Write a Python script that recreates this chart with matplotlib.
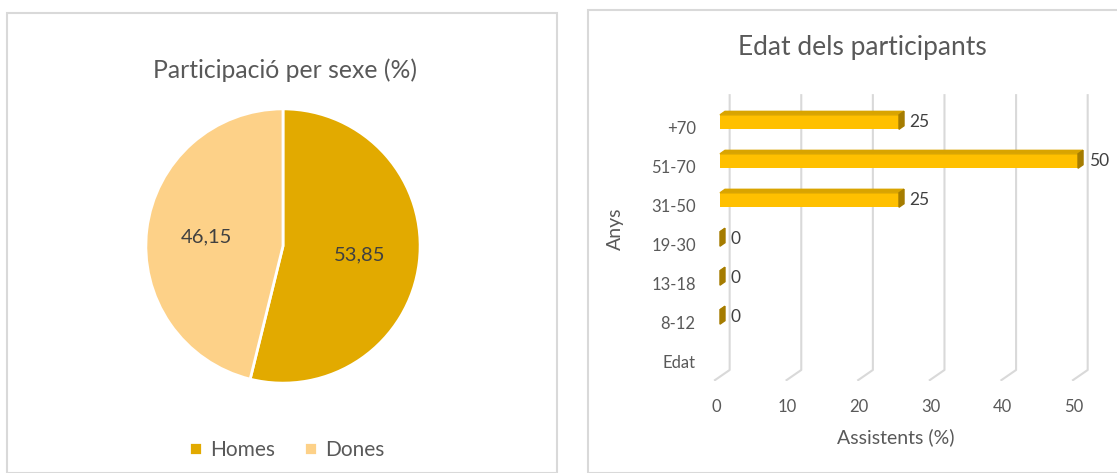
import matplotlib
matplotlib.use('Agg')
import matplotlib.pyplot as plt
import matplotlib.transforms as mtransforms
from matplotlib.patches import Rectangle, Polygon

plt.rcParams['font.family'] = ['Lato', 'DejaVu Sans']

# dades
sexes = ['Homes', 'Dones']
sexe_pct = [53.85, 46.15]

edats = ['Edat', '8-12', '13-18', '19-30', '31-50', '51-70', '+70']
assistents = [None, 0, 0, 0, 25, 50, 25]
x_ticks = [0, 10, 20, 30, 40, 50]

W, H = 1117, 473
TXT = '#595959'
GRID = '#D9D9D9'
C_HOMES = '#E2AA00'
C_DONES = '#FDD188'
C_FRONT = '#FFC000'
C_TOP = '#D9A400'
C_SIDE = '#A57C00'


def fx(px):
    return px / W


def fy(py):
    return 1 - py / H


fig = plt.figure(figsize=(W / 100, H / 100), dpi=100)

# marcs dels dos gràfics
for x0, y0, x1 in [(7, 13, 557), (588, 10, 1130)]:
    fig.patches.append(Rectangle((fx(x0), 0), fx(x1) - fx(x0), fy(y0),
                                 transform=fig.transFigure, fill=False,
                                 edgecolor=GRID, linewidth=1.5))

# ---- pastís ----
cx, cy, r = 283, 246, 138.5
ax1 = fig.add_axes([fx(cx - r), fy(cy + r), fx(2 * r), 2 * r / H])
wedges, _, autotexts = ax1.pie(sexe_pct, colors=[C_HOMES, C_DONES], startangle=90,
                               counterclock=False, radius=1,
                               autopct=lambda p: ('%.2f' % p).replace('.', ','),
                               pctdistance=0.56,
                               wedgeprops=dict(edgecolor='white', linewidth=2))
for t in autotexts:
    t.set_color('#404040')
    t.set_fontsize(14.5)
ax1.set_xlim(-1.01, 1.01)
ax1.set_ylim(-1.01, 1.01)
fig.text(fx(285), fy(70), 'Participació per sexe (%)', ha='center', va='center',
         fontsize=17.8, color=TXT)
fig.legend(wedges, sexes, loc='center', bbox_to_anchor=(fx(287), fy(450)), ncol=2,
           frameon=False, fontsize=15, handlelength=0.6, handleheight=0.6,
           handletextpad=0.4, columnspacing=1.4, labelcolor=TXT)

# ---- barres ----
ax2 = fig.add_axes([fx(698.5), fy(380.5), fx(401), 286.5 / H])
ax2.set_xlim(-3, 53)
ax2.set_ylim(-0.5, 6.85)
for s in ax2.spines.values():
    s.set_visible(False)

# línies de graella amb perspectiva
for g in x_ticks:
    ax2.plot([g - 0.7, g + 1.35, g + 1.35], [-0.49, -0.23, 6.82], color=GRID,
             linewidth=1.5, zorder=0)

dx, dy, h, off = 0.7, 0.09, 0.37, 0.13
for i, v in enumerate(assistents):
    if v is None:
        continue
    yb = i + off - h / 2
    yt = i + off + h / 2
    ax2.barh(i + off, v, height=h, color=C_FRONT, zorder=2)
    ax2.add_patch(Polygon([(0, yt), (v, yt), (v + dx, yt + dy), (dx, yt + dy)],
                          closed=True, color=C_TOP, zorder=2))
    ax2.add_patch(Polygon([(v, yb), (v, yt), (v + dx, yt + dy), (v + dx, yb + dy)],
                          closed=True, color=C_SIDE, zorder=2))
    ax2.annotate(str(v), (v + dx, i + off), xytext=(4, 0), textcoords='offset points',
                 ha='left', va='center', fontsize=12.5, color='#404040')

ax2.set_yticks(range(len(edats)))
ax2.set_yticklabels(edats, fontsize=12, color=TXT)
ax2.set_xticks(x_ticks)
ax2.set_xticklabels([str(t) for t in x_ticks], fontsize=12, color=TXT)
ax2.tick_params(axis='both', length=0)
ax2.tick_params(axis='x', pad=13)
ax2.tick_params(axis='y', pad=2)
shift = mtransforms.ScaledTranslation(-4 / 100, 0, fig.dpi_scale_trans)
for lab in ax2.get_xticklabels():
    lab.set_transform(lab.get_transform() + shift)

fig.text(fx(862), fy(47), 'Edat dels participants', ha='center', va='center',
         fontsize=19, color=TXT)
fig.text(fx(896), fy(437), 'Assistents (%)', ha='center', va='center',
         fontsize=14, color=TXT)
fig.text(fx(615), fy(229), 'Anys', ha='center', va='center', rotation=90,
         fontsize=14, color=TXT)

fig.savefig('out.png', dpi=100)
